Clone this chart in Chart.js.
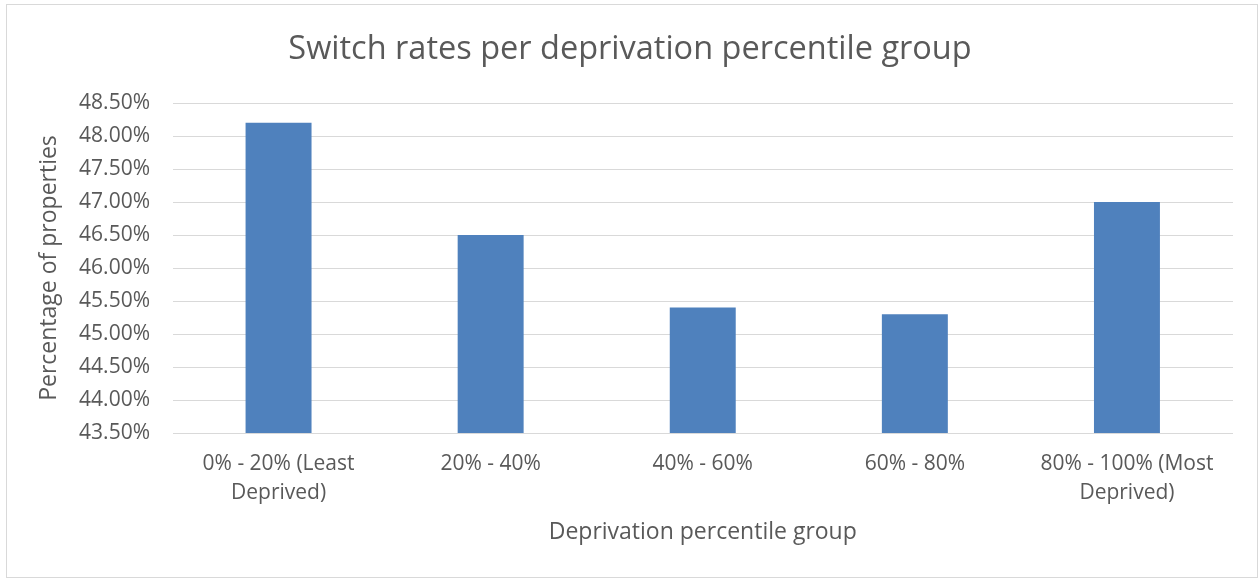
<!DOCTYPE html>
<html>
<head>
<meta charset="utf-8">
<script src="https://cdn.jsdelivr.net/npm/chart.js@4.4.1/dist/chart.umd.min.js"></script>
<style>
  html, body { margin: 0; padding: 0; background: #ffffff; }
  #wrap { position: relative; width: 1260px; height: 579px; }
  #frame { position: absolute; left: 6px; top: 4px; width: 1252px; height: 574px; border: 1px solid #d9d9d9; box-sizing: border-box; pointer-events: none; }
  canvas { position: absolute; left: 0; top: 0; }
</style>
</head>
<body>
<div id="wrap">
  <canvas id="c" width="1260" height="579"></canvas>
  <div id="frame"></div>
</div>
<script>
const categories = [
  ['0% - 20% (Least', 'Deprived)'],
  '20% - 40%',
  '40% - 60%',
  '60% - 80%',
  ['80% - 100% (Most', 'Deprived)']
];
const switchRates = [48.2, 46.5, 45.4, 45.3, 47.0];
const yMin = 43.5;
const yMax = 48.5;
const yStep = 0.5;

const FONT = '"Open Sans", "Noto Sans", sans-serif';
const TEXT = '#595959';

new Chart(document.getElementById('c'), {
  type: 'bar',
  data: {
    labels: categories,
    datasets: [{
      label: 'Switch rate',
      data: switchRates,
      backgroundColor: '#4f81bd',
      borderWidth: 0,
      categoryPercentage: 1.0,
      barPercentage: 0.311
    }]
  },
  options: {
    responsive: false,
    animation: false,
    layout: { padding: { left: 27, right: 27, top: 0, bottom: 0 } },
    plugins: {
      legend: { display: false },
      tooltip: { enabled: false },
      title: {
        display: true,
        text: 'Switch rates per deprivation percentile group',
        color: TEXT,
        font: { family: FONT, size: 32.5, weight: 'normal', lineHeight: 1.2 },
        padding: { top: 30.5, bottom: 33.5 }
      }
    },
    scales: {
      x: {
        grid: { display: false, drawTicks: false },
        border: { display: false },
        ticks: {
          color: TEXT,
          font: { family: FONT, size: 21, lineHeight: 1.38 },
          padding: 16.5,
          maxRotation: 0,
          autoSkip: false
        },
        title: {
          display: true,
          text: 'Deprivation percentile group',
          color: TEXT,
          font: { family: FONT, size: 23, lineHeight: 1.2 },
          padding: { top: 0, bottom: 33 }
        },
        afterFit: (s) => { s.height = 146; }
      },
      y: {
        min: yMin,
        max: yMax,
        grid: { color: '#d9d9d9', lineWidth: 1, drawTicks: false },
        border: { display: false },
        ticks: {
          stepSize: yStep,
          color: TEXT,
          font: { family: FONT, size: 21 },
          padding: 22.5,
          callback: (v) => Number(v).toFixed(2) + '%'
        },
        title: {
          display: true,
          text: 'Percentage of properties',
          color: TEXT,
          font: { family: FONT, size: 23, lineHeight: 1.2 },
          padding: { top: 9, bottom: 0 }
        },
        afterFit: (s) => { s.width = 145.5; }
      }
    }
  }
});
</script>
</body>
</html>
